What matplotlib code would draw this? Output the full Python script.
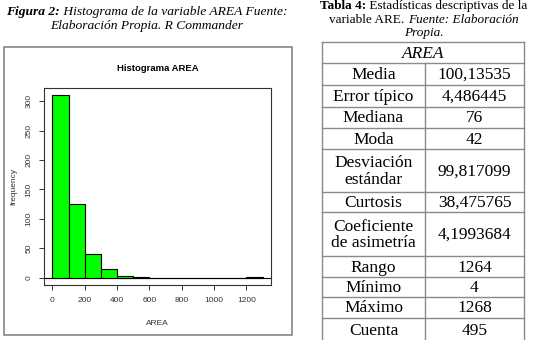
import matplotlib.pyplot as plt
from matplotlib.patches import Rectangle

# histogram of AREA (R Commander), bins of width 100
bin_edges = [0, 100, 200, 300, 400, 500, 600, 700, 800, 900, 1000, 1100, 1200, 1300]
counts = [310, 125, 40, 15, 3, 1, 0, 0, 0, 0, 0, 0, 1]
x_ticks = [0, 200, 400, 600, 800, 1000, 1200]
y_ticks = [0, 50, 100, 150, 200, 250, 300]

# descriptive statistics table
stat_names = ['Media', 'Error típico', 'Mediana', 'Moda', 'Desviación\nestándar',
              'Curtosis', 'Coeficiente\nde asimetría', 'Rango', 'Mínimo',
              'Máximo', 'Cuenta']
stat_values = ['100,13535', '4,486445', '76', '42', '99,817099', '38,475765',
               '4,1993684', '1264', '4', '1268', '495']

W, H = 534, 340
fig = plt.figure(figsize=(W / 100, H / 100), dpi=100)
fig.patch.set_facecolor('white')

# overlay in pixel coordinates for captions, frame and table
lay = fig.add_axes([0, 0, 1, 1])
lay.set_xlim(0, W)
lay.set_ylim(H, 0)
lay.axis('off')

serif = 'Liberation Serif'
sans = 'Liberation Sans'
renderer = fig.canvas.get_renderer()


def rich_line(xc, y, parts, size):
    # parts: list of (text, weight, style); placed side by side, centred on xc
    objs = []
    for txt, wt, st in parts:
        t = lay.text(0, y, txt, family=serif, fontsize=size, weight=wt,
                     style=st, va='center', ha='left')
        objs.append(t)
    widths = [o.get_window_extent(renderer).width for o in objs]
    x = xc - sum(widths) / 2
    for o, w in zip(objs, widths):
        o.set_x(x)
        x += w


# left caption
rich_line(147, 12, [('Figura 2:', 'bold', 'italic'),
                    (' Histograma de la variable AREA Fuente:', 'normal', 'italic')], 9.7)
rich_line(147, 26, [('Elaboración Propia. R Commander', 'normal', 'italic')], 9.7)

# frame around the R graphic
lay.add_patch(Rectangle((4, 47), 288, 288, fill=False, ec='#7a7a7a', lw=1.1))

# table title
rich_line(424, 6, [('Tabla 4:', 'bold', 'normal'),
                   (' Estadísticas descriptivas de la', 'normal', 'normal')], 9.5)
rich_line(424, 20, [('variable ARE. ', 'normal', 'normal'),
                    ('Fuente: Elaboración', 'normal', 'italic')], 9.5)
rich_line(424, 33, [('Propia.', 'normal', 'italic')], 9.5)

# table grid
x_left, x_mid, x_right = 322, 425, 524
row_lines = [42, 63, 85, 107, 128, 149, 192, 212, 256, 277, 297, 318, 342]
gc = '#8a8a8a'
for y in row_lines:
    lay.plot([x_left, x_right], [y, y], color=gc, lw=1.0)
lay.plot([x_left, x_left], [row_lines[0], row_lines[-1]], color=gc, lw=1.0)
lay.plot([x_right, x_right], [row_lines[0], row_lines[-1]], color=gc, lw=1.0)
lay.plot([x_mid, x_mid], [row_lines[1], row_lines[-1]], color=gc, lw=1.0)

lay.text((x_left + x_right) / 2, (row_lines[0] + row_lines[1]) / 2 + 1, 'AREA',
         family=serif, style='italic', fontsize=12.5, ha='center', va='center')
for i, (name, val) in enumerate(zip(stat_names, stat_values)):
    yc = (row_lines[i + 1] + row_lines[i + 2]) / 2 + 1
    lay.text((x_left + x_mid) / 2, yc, name, family=serif, fontsize=12.5,
             ha='center', va='center', linespacing=1.05)
    lay.text((x_mid + x_right) / 2, yc, val, family=serif, fontsize=12.5,
             ha='center', va='center')

# histogram
ax = fig.add_axes([44 / W, 1 - 285 / H, 227 / W, 197 / H])
ax.bar(bin_edges[:-1], counts, width=100, align='edge', color='#00ff00',
       edgecolor='black', linewidth=0.8, zorder=3)
ax.axhline(0, color='black', lw=0.8, zorder=2)
ax.set_xlim(-52, 1352)
ax.set_ylim(-12.4, 322.4)
ax.set_xticks(x_ticks)
ax.set_yticks(y_ticks)
ax.set_yticklabels([str(v) for v in y_ticks], rotation=90, va='center')
for lab in ax.get_xticklabels() + ax.get_yticklabels():
    lab.set_family(sans)
    lab.set_fontsize(6)
    lab.set_color('#333333')
ax.tick_params(direction='out', length=3.5, width=0.7, pad=5, color='#333333')
for s in ax.spines.values():
    s.set_linewidth(0.8)
    s.set_color('#333333')
ax.set_title('Histograma AREA', family=sans, weight='bold', fontsize=6.8, pad=12)
ax.set_xlabel('AREA', family=sans, fontsize=6, color='#333333', labelpad=12)
ax.set_ylabel('frequency', family=sans, fontsize=6, color='#333333', labelpad=5)

fig.savefig('out.png', dpi=100, facecolor='white')
